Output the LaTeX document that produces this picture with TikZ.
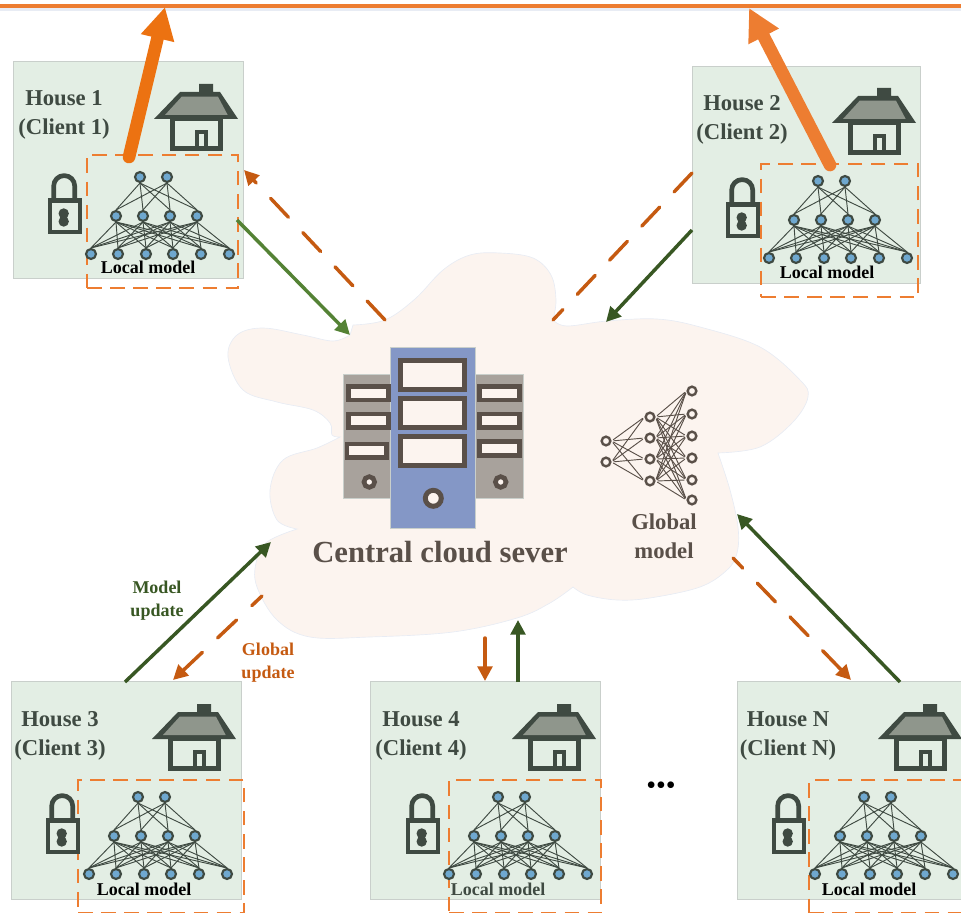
\documentclass[tikz,border=0pt]{standalone}
\usepackage{fontspec}
\setmainfont{Liberation Serif}
\usetikzlibrary{arrows.meta}
\definecolor{cloudfill}{HTML}{FCF4EF}
\definecolor{cloudedge}{HTML}{E8ECF4}
\definecolor{boxfill}{HTML}{E3EEE4}
\definecolor{boxedge}{HTML}{C9CFCB}
\definecolor{iconc}{HTML}{3F4A42}
\definecolor{roofc}{HTML}{8F968C}
\definecolor{neuronc}{HTML}{6FA8CF}
\definecolor{serverc}{HTML}{5A5049}
\definecolor{bluec}{HTML}{8497C6}
\definecolor{greyc}{HTML}{A8A29C}
\definecolor{dashc}{HTML}{ED7D31}
\definecolor{downc}{HTML}{C55A11}
\definecolor{upc}{HTML}{385723}
\definecolor{uponec}{HTML}{548235}
\definecolor{busonec}{HTML}{EC7211}
\tikzset{
  housebox/.style={draw=boxedge,fill=boxfill,line width=.8pt,anchor=north west,inner sep=0pt},
  localbox/.style={draw=dashc,line width=1.8pt,dash pattern=on 11pt off 6.3pt,anchor=north west,inner sep=0pt},
  housetext/.style={align=center,text=iconc,font=\fontsize{17}{21.75}\selectfont\bfseries},
  localtext/.style={font=\fontsize{13.5}{16}\selectfont\bfseries},
  cloudtext/.style={align=center,text=serverc,font=\fontsize{17}{22}\selectfont\bfseries},
  neuron/.style={circle,draw=iconc,fill=neuronc,line width=1.6pt,inner sep=0pt,minimum size=7.5pt},
  gneuron/.style={circle,draw=serverc,fill=cloudfill,line width=1.8pt,inner sep=0pt,minimum size=6.5pt},
  nnedge/.style={draw=iconc,line width=.7pt},
  gedge/.style={draw=serverc,line width=.7pt,shorten >=1.5pt,shorten <=1.5pt},
  uparrow/.style={draw=upc,line width=2.6pt,-{Triangle[length=11pt,width=11pt]}},
  downarrow/.style={draw=downc,line width=2.6pt,line cap=round,dash pattern=on 19.5pt off 15.75pt,-{Triangle[length=11pt,width=11pt]}},
  busarrow/.style={line width=9.5pt,line cap=round,-{Triangle[length=24pt,width=24pt]}},
  panel/.style={draw=serverc,fill=cloudfill,line width=3.5pt},
  client/.pic={
    % house
    \fill[iconc] (141,58) -- (167,31) -- (186,31) -- (186,23) -- (200,23) -- (200,31) -- (207,31) -- (225,58) -- cycle;
    \fill[roofc] (152,54) -- (168.7,35.7) -- (205,35.7) -- (214.7,54) -- cycle;
    \draw[iconc,line width=3.7pt] (159.5,58) rectangle (207.5,87.5);
    \draw[iconc,line width=3pt] (184,71) rectangle (193,88);
    % lock
    \draw[iconc,line width=3.5pt,rounded corners=7.8pt] (40.7,137) -- (40.7,114.6) -- (61.7,114.6) -- (61.7,137);
    \draw[iconc,line width=3.2pt] (37,139.5) rectangle (67,171);
    \fill[iconc] (50.7,152.5) circle[radius=3.9pt] (50.7,160.5) circle[radius=3.9pt];
    % local network
    \foreach \i/\x in {1/127,2/154}
      \node (t\i) [neuron] at (\x,116) {};
    \foreach \i/\x in {1/103,2/130,3/157,4/184}
      \node (m\i) [neuron] at (\x,155) {};
    \foreach \i/\x in {1/78,2/105,3/133,4/160,5/188,6/216}
      \node (b\i) [neuron] at (\x,193) {};
    \foreach \i in {1,2}
      \foreach \j in {1,...,4}
        \draw[nnedge] (t\i.south) -- (m\j.north);
    \foreach \i in {1,...,4}
      \foreach \j in {1,...,6}
        \draw[nnedge] (m\i.south) -- (b\j.north);
  }
}

\begin{document}
\begin{tikzpicture}[x=.75pt,y=-.75pt]
  \useasboundingbox (0,0) rectangle (961,913);
  \clip (0,0) rectangle (961,913);

  % cloud
  \fill[cloudfill,draw=cloudedge,line width=.5pt]
    plot[smooth,tension=.6] coordinates {(353,325) (385,320) (415,299) (443,270) (470,255) (500,253) (533,258) (551,275) (556,300) (553,320)}
    -- plot[smooth,tension=.6] coordinates {(553,320) (567,326) (607,321) (657,319) (700,327) (760,347) (800,380) (808,397) (793,422) (760,447) (718,453)}
    -- plot[smooth,tension=.6] coordinates {(718,453) (730,490) (738,527) (737,553) (727,570) (700,587) (650,598) (617,600) (587,595) (573,587)}
    -- plot[smooth,tension=.6] coordinates {(573,587) (550,603) (517,618) (453,632) (370,637) (310,637) (277,620) (257,587) (256,563) (267,542) (297,529)}
    -- plot[smooth,tension=.6] coordinates {(297,529) (277,520) (270,490) (283,460) (317,448) (340,437)}
    -- plot[smooth,tension=.6] coordinates {(340,437) (332,435) (330,423) (313,410) (277,402) (243,390) (228,357) (237,335) (263,328) (303,335) (333,341) (350,335)}
    -- cycle;

  % server
  \filldraw[fill=greyc,draw=boxedge,line width=.5pt] (343.3,374.7) rectangle (390.7,498);
  \filldraw[fill=greyc,draw=boxedge,line width=.5pt] (475.7,374.7) rectangle (523.3,498);
  \filldraw[fill=bluec,draw=boxedge,line width=.5pt] (390.7,347.3) rectangle (475.7,528.3);
  \foreach \y in {358,396,434}
    \draw[panel] (400.3,\y+2.3) rectangle (464.4,\y+31.4);
  \foreach \x/\y in {346.3/384,346.3/411.7,344.7/441.7}
    \draw[panel] (\x+2.3,\y+2.3) rectangle (\x+42,\y+16);
  \foreach \y in {384,411.7,439.3}
    \draw[panel] (479.6,\y+2.3) rectangle (519.7,\y+16);
  \draw[panel,line width=3.7pt] (433.3,498.3) circle[radius=6pt];
  \foreach \x in {369.3,500.7}
    \draw[panel] (\x,482) circle[radius=4pt];

  % global network
  \foreach \i/\y in {1/441,2/462}
    \node (gi\i) [gneuron] at (606,\y) {};
  \foreach \i/\y in {1/417,2/438,3/459,4/481}
    \node (gm\i) [gneuron] at (650,\y) {};
  \foreach \i/\y in {1/391,2/414,3/436,4/458,5/480,6/500}
    \node (go\i) [gneuron] at (692,\y) {};
  \foreach \i in {1,2}
    \foreach \j in {1,...,4}
      \draw[gedge] (gi\i.east) -- (gm\j.west);
  \foreach \i in {1,...,4}
    \foreach \j in {1,...,6}
      \draw[gedge] (gm\i.east) -- (go\j.west);

  \node (title) [text=serverc,font=\fontsize{23}{26}\selectfont\bfseries] at (440,552) {Central cloud sever};
  \node (gmodel) [cloudtext] at (664,536) {Global\\model};

  % houses
  \node (house1) [housebox,minimum width=172.5pt,minimum height=162.75pt] at (13,61) {};
  \node (house2) [housebox,minimum width=171pt,minimum height=162.75pt] at (692,66) {};
  \node (house3) [housebox,minimum width=172.5pt,minimum height=163.5pt] at (11,681) {};
  \node (house4) [housebox,minimum width=172.5pt,minimum height=163.5pt] at (370,681) {};
  \node (houseN) [housebox,minimum width=175pt,minimum height=163.5pt] at (737,681) {};

  \node (local1) [localbox,minimum width=113.25pt,minimum height=99.75pt] at (86,154) {};
  \node (local2) [localbox,minimum width=117.75pt,minimum height=99.75pt] at (760,163) {};
  \node (local3) [localbox,minimum width=124.5pt,minimum height=99.75pt] at (77,779) {};
  \node (local4) [localbox,minimum width=114pt,minimum height=99.75pt] at (448,779) {};
  \node (localN) [localbox,minimum width=122pt,minimum height=99.75pt] at (808,779) {};

  \pic (c1) at (13,61) {client};
  \pic (c2) at (691,65) {client};
  \pic (c3) at (11,681) {client};
  \pic (c4) at (371,681) {client};
  \pic (cN) at (737,681) {client};

  \node (text1) [housetext] at (64,115) {House 1\\(Client 1)};
  \node (text2) [housetext] at (742,120) {House 2\\(Client 2)};
  \node (text3) [housetext] at (60,736) {House 3\\(Client 3)};
  \node (text4) [housetext] at (421,736) {House 4\\(Client 4)};
  \node (textN) [housetext] at (788,736) {House N\\(Client N)};

  \node (lm1) [localtext] at (148,267) {Local model};
  \node (lm2) [localtext] at (827,272) {Local model};
  \node (lm3) [localtext] at (144,889) {Local model};
  \node (lm4) [localtext,text=iconc] at (498,889) {Local model};
  \node (lmN) [localtext] at (869,889) {Local model};

  \node (dots) [font=\fontsize{21}{24}\selectfont] at (661,788) {•••};
  \node (mupdate) [align=center,text=upc,font=\fontsize{13.5}{17}\selectfont\bfseries] at (157,600.5) {Model\\update};
  \node (gupdate) [align=center,text=downc,font=\fontsize{13.5}{17}\selectfont\bfseries] at (268,662.5) {Global\\update};

  % connector ends
  \coordinate (busL) at (0,6);
  \coordinate (busR) at (961,6);
  \coordinate (busleftL) at (0,9.5);
  \coordinate (busleftR) at (961,9.5);
  \coordinate (bus1) at (165,7);
  \coordinate (bus2) at (749,8);
  \coordinate (start1) at (129,157);
  \coordinate (start2) at (830,165);
  \coordinate (up1a) at (237,220);
  \coordinate (up1b) at (350,335);
  \coordinate (dn1a) at (385,320);
  \coordinate (dn1b) at (244,170);
  \coordinate (up2a) at (692,230);
  \coordinate (up2b) at (606,322);
  \coordinate (dn2a) at (692,173);
  \coordinate (dn2b) at (553,320);
  \coordinate (up3a) at (125,682);
  \coordinate (up3b) at (271,542);
  \coordinate (dn3a) at (262,596);
  \coordinate (dn3b) at (173,680);
  \coordinate (up4a) at (518,682);
  \coordinate (up4b) at (518,620);
  \coordinate (dn4a) at (485,638);
  \coordinate (dn4b) at (485,681);
  \coordinate (upNa) at (900,682);
  \coordinate (upNb) at (737,514);
  \coordinate (dnNa) at (733,558);
  \coordinate (dnNb) at (851,680);

  \draw [draw=cloudedge,line width=2.5pt] (busleftL) -- (busleftR);
  \draw [draw=dashc,line width=3pt] (busL) -- (busR);

  \draw [uparrow,draw=uponec] (up1a) -- (up1b);
  \draw [downarrow] (dn1a) -- (dn1b);
  \draw [uparrow] (up2a) -- (up2b);
  \draw [downarrow,-] (dn2a) -- (dn2b);
  \draw [uparrow] (up3a) -- (up3b);
  \draw [downarrow,dash phase=9pt] (dn3a) -- (dn3b);
  \draw [uparrow] (up4a) -- (up4b);
  \draw [downarrow,solid] (dn4a) -- (dn4b);
  \draw [uparrow] (upNa) -- (upNb);
  \draw [downarrow,dash phase=9pt] (dnNa) -- (dnNb);

  \draw [busarrow,draw=busonec] (start1) -- (bus1);
  \draw [busarrow,draw=dashc] (start2) -- (bus2);
\end{tikzpicture}
\end{document}
